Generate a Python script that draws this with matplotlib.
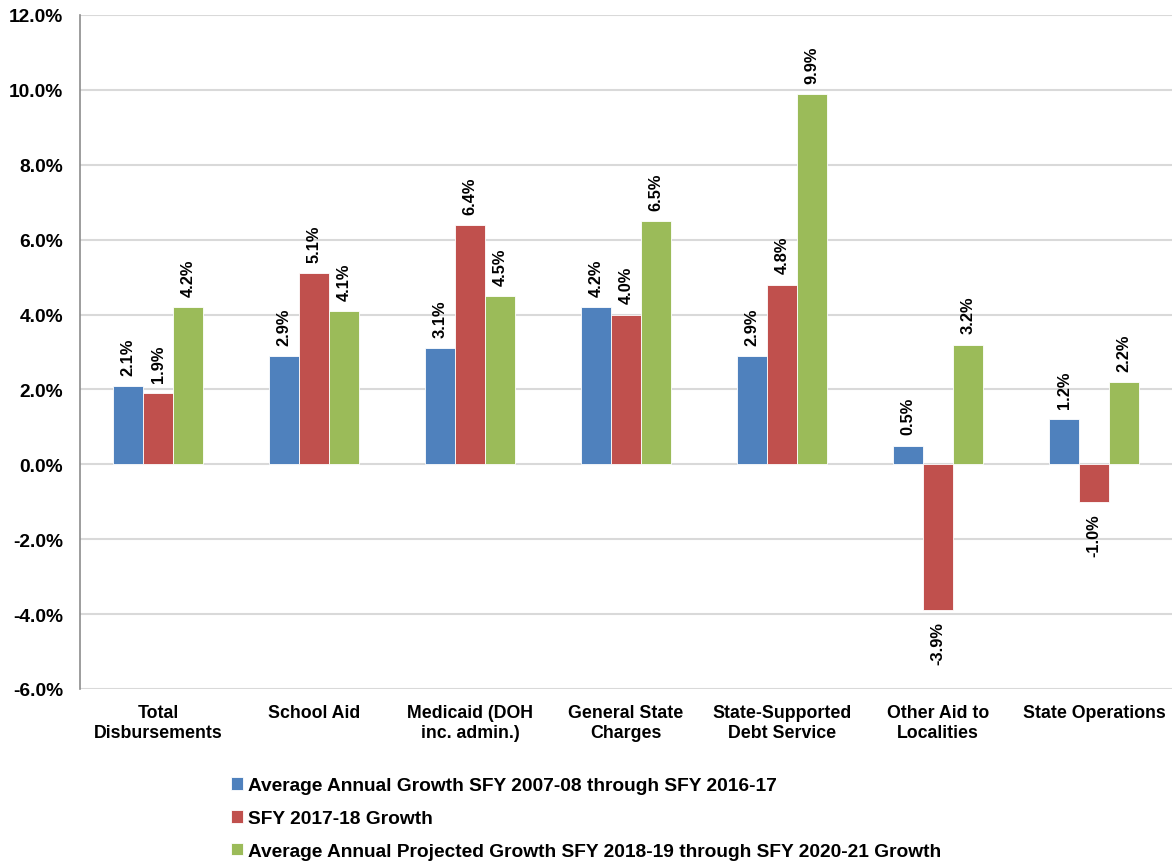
import matplotlib
matplotlib.use("Agg")
import matplotlib.pyplot as plt
import numpy as np
from matplotlib.ticker import FuncFormatter, MultipleLocator

plt.rcParams['font.family'] = ['Liberation Sans', 'DejaVu Sans']
plt.rcParams['font.weight'] = 'bold'

categories = ["Total\nDisbursements", "School Aid", "Medicaid (DOH\ninc. admin.)",
              "General State\nCharges", "State-Supported\nDebt Service",
              "Other Aid to\nLocalities", "State Operations"]
series_names = ["Average Annual Growth SFY 2007-08 through SFY 2016-17",
                "SFY 2017-18 Growth",
                "Average Annual Projected Growth SFY 2018-19 through SFY 2020-21 Growth"]
hist_avg = [2.1, 2.9, 3.1, 4.2, 2.9, 0.5, 1.2]
sfy_1718 = [1.9, 5.1, 6.4, 4.0, 4.8, -3.9, -1.0]
proj_avg = [4.2, 4.1, 4.5, 6.5, 9.9, 3.2, 2.2]
colors = ["#4F81BD", "#C0504D", "#9BBB59"]

fig = plt.figure(figsize=(11.72, 8.62), dpi=100)
ax = fig.add_axes([80 / 1172, 1 - 690 / 862, 1 - 80 / 1172, (690 - 16) / 862])

x = np.arange(len(categories))
width = 0.192
for i, (vals, col, name) in enumerate(zip([hist_avg, sfy_1718, proj_avg], colors, series_names)):
    pos = x + (i - 1) * width
    bars = ax.bar(pos, vals, width, color=col, edgecolor="white", linewidth=0.6,
                  label=name, zorder=3)
    for b, v in zip(bars, vals):
        cx = b.get_x() + b.get_width() / 2
        if v >= 0:
            ax.annotate(f"{v:.1f}%", (cx, v), xytext=(0, 8), textcoords="offset points",
                        rotation=90, ha="center", va="bottom", fontsize=11.8,
                        fontweight="bold")
        else:
            ax.annotate(f"{v:.1f}%", (cx, v), xytext=(0, -8), textcoords="offset points",
                        rotation=90, ha="center", va="top", fontsize=11.8,
                        fontweight="bold")

ax.set_xlim(-0.5, len(categories) - 0.5)
ax.set_ylim(-6, 12)
ax.yaxis.set_major_locator(MultipleLocator(2))
ax.yaxis.set_major_formatter(FuncFormatter(lambda v, p: f"{v:.1f}%"))
ax.set_xticks(x)
ax.set_xticklabels(categories, fontsize=12.8, fontweight="bold", linespacing=1.2)
ax.tick_params(axis="x", length=0, pad=11)
ax.tick_params(axis="y", length=0, pad=12, labelsize=13.8)
for lbl in ax.get_yticklabels():
    lbl.set_fontweight("bold")

ax.grid(axis="y", color="#d9d9d9", linewidth=1.5, zorder=0)
for s in ["top", "right", "bottom"]:
    ax.spines[s].set_visible(False)
ax.spines["left"].set_color("#8c8c8c")
ax.spines["left"].set_linewidth(1.2)

leg = fig.legend(loc="upper left", bbox_to_anchor=(231 / 1172, 1 - 778 / 862),
                 frameon=False, fontsize=13.8, handlelength=0.65, handleheight=0.65,
                 handletextpad=0.25, labelspacing=0.82, borderaxespad=0, borderpad=0)
for t in leg.get_texts():
    t.set_fontweight("bold")

fig.savefig("out.png", dpi=100)
